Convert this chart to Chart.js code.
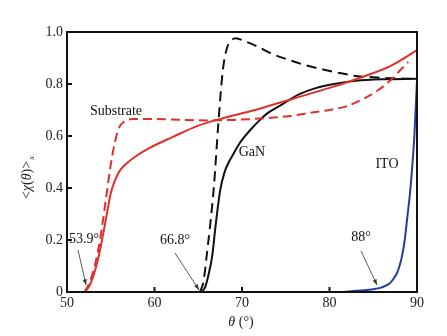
<!DOCTYPE html>
<html><head><meta charset="utf-8">
<script src="https://cdn.jsdelivr.net/npm/chart.js@4/dist/chart.umd.min.js"></script>
<style>html,body{margin:0;padding:0;background:#fff;}canvas{display:block;}</style>
</head><body>
<canvas id="c" width="447" height="336"></canvas>
<script>
// Substrate (red)
const subSolidX = [52,52.5,53,53.5,54,54.5,55,55.5,56,57,58,59.5,62,65,68,72,76,80,84,87,90];
const subSolidY = [0,0.02,0.06,0.12,0.2,0.29,0.38,0.43,0.465,0.5,0.525,0.555,0.595,0.64,0.67,0.705,0.745,0.785,0.83,0.87,0.93];
const subDashX = [52,52.5,53,53.5,54,54.5,55,55.5,56,56.5,57.5,60,63,66,69,72,75,78,80,82,84,85.5,87,88,89];
const subDashY = [0,0.03,0.08,0.15,0.25,0.37,0.49,0.58,0.635,0.655,0.665,0.665,0.662,0.66,0.662,0.667,0.675,0.69,0.70,0.715,0.745,0.775,0.815,0.85,0.885];
// GaN (black)
const ganSolidX = [65.4,65.8,66.2,66.6,67,67.5,68,68.5,69,69.5,70,71,72,73,74.5,76.5,78.5,80.5,83,86,90];
const ganSolidY = [0,0.02,0.07,0.14,0.26,0.39,0.46,0.5,0.53,0.56,0.585,0.625,0.66,0.69,0.72,0.76,0.785,0.80,0.812,0.818,0.82];
const ganDashX = [65.2,65.6,66,66.4,66.8,67.3,67.8,68.3,68.8,69.25,70.5,71.7,73.5,75.6,77.5,79.4,81.5,83.2,85,87,90];
const ganDashY = [0,0.04,0.15,0.27,0.41,0.65,0.85,0.94,0.968,0.976,0.962,0.945,0.915,0.89,0.87,0.855,0.84,0.83,0.826,0.822,0.82];
// ITO (blue)
const itoX = [81.5,82.5,84,85,85.8,86.4,86.9,87.3,87.7,88,88.3,88.6,88.9,89.2,89.45,89.7,90];
const itoY = [0,0.003,0.007,0.011,0.016,0.024,0.034,0.05,0.072,0.1,0.14,0.2,0.29,0.38,0.48,0.6,0.815];
// axis ticks
const xTicks = [50,60,70,80,90];
const yTicks = [0,0.2,0.4,0.6,0.8,1.0];
// annotations: [text, x, y] and arrows [x0,y0,x1,y1] in data units
const labels = [["Substrate",55.6,0.696],["GaN",71.14,0.538],["ITO",86.57,0.492],["53.9°",51.94,0.204],["66.8°",62.34,0.2],["88°",83.6,0.21]];
const arrows = [[51.26,0.1615,52.17,0.027],[62.34,0.15,65.09,0.008],[83.6,0.158,85.43,0.027]];

const pts = (xs,ys)=>xs.map((x,i)=>({x:x,y:ys[i]}));
const RED='#e0302c', BLUE='#2a3a9a', BLK='#111';
const FONT='"Liberation Serif","Times New Roman",serif';

const deco = {
  id:'deco',
  afterDraw(chart){
    const ctx=chart.ctx, xs=chart.scales.x, ys=chart.scales.y, a=chart.chartArea;
    ctx.save();
    ctx.strokeStyle='#111'; ctx.lineWidth=2;
    ctx.strokeRect(a.left,a.top,a.right-a.left,a.bottom-a.top);
    ctx.lineWidth=2;
    xTicks.forEach(v=>{const p=xs.getPixelForValue(v); ctx.beginPath(); ctx.moveTo(p,a.bottom); ctx.lineTo(p,a.bottom-5); ctx.stroke();});
    yTicks.forEach(v=>{const p=ys.getPixelForValue(v); ctx.beginPath(); ctx.moveTo(a.left,p); ctx.lineTo(a.left+5,p); ctx.stroke();});
    // annotations
    ctx.fillStyle='#111'; ctx.font='14px '+FONT; ctx.textAlign='center'; ctx.textBaseline='middle';
    labels.forEach(l=>ctx.fillText(l[0], xs.getPixelForValue(l[1]), ys.getPixelForValue(l[2])));
    ctx.strokeStyle='#333'; ctx.fillStyle='#333'; ctx.lineWidth=0.8;
    arrows.forEach(r=>{
      const x0=xs.getPixelForValue(r[0]), y0=ys.getPixelForValue(r[1]), x1=xs.getPixelForValue(r[2]), y1=ys.getPixelForValue(r[3]);
      ctx.beginPath(); ctx.moveTo(x0,y0); ctx.lineTo(x1,y1); ctx.stroke();
      const ang=Math.atan2(y1-y0,x1-x0), L=6, w=0.35;
      ctx.beginPath(); ctx.moveTo(x1,y1);
      ctx.lineTo(x1-L*Math.cos(ang-w), y1-L*Math.sin(ang-w));
      ctx.lineTo(x1-L*Math.cos(ang+w), y1-L*Math.sin(ang+w));
      ctx.closePath(); ctx.fill();
    });
    // y axis title
    ctx.fillStyle='#222';
    ctx.save(); ctx.translate(27,178); ctx.rotate(-Math.PI/2);
    const parts=[["<",'14px '],["χ",'italic 14px '],["(",'14px '],["θ",'italic 14px '],[")",'14px '],[">",'14px ']];
    let tw=0; parts.forEach(p=>{ctx.font=p[1]+FONT; tw+=ctx.measureText(p[0]).width;});
    ctx.font='italic 9px '+FONT; const sw=ctx.measureText('x').width; tw+=sw;
    let cx=-tw/2; ctx.textAlign='left'; ctx.textBaseline='middle';
    parts.forEach(p=>{ctx.font=p[1]+FONT; ctx.fillText(p[0],cx,0); cx+=ctx.measureText(p[0]).width;});
    ctx.font='italic 9px '+FONT; ctx.fillText('x',cx+1,5);
    ctx.restore();
    // x axis title
    ctx.textBaseline='middle'; ctx.textAlign='left';
    ctx.font='italic 14px '+FONT; const t1=ctx.measureText('θ').width;
    ctx.font='14px '+FONT; const t2=ctx.measureText(' (°)').width;
    let sx=241-(t1+t2)/2;
    ctx.font='italic 14px '+FONT; ctx.fillText('θ',sx,322);
    ctx.font='14px '+FONT; ctx.fillText(' (°)',sx+t1,322);
    ctx.restore();
  }
};

const common={pointRadius:0,borderWidth:2,fill:false,cubicInterpolationMode:'monotone'};
new Chart(document.getElementById('c'),{
  type:'line',
  data:{datasets:[
    Object.assign({label:'Substrate',data:pts(subSolidX,subSolidY),borderColor:RED},common),
    Object.assign({label:'Substrate dashed',data:pts(subDashX,subDashY),borderColor:RED,borderDash:[9,5]},common),
    Object.assign({label:'GaN',data:pts(ganSolidX,ganSolidY),borderColor:BLK},common),
    Object.assign({label:'GaN dashed',data:pts(ganDashX,ganDashY),borderColor:BLK,borderDash:[10,6]},common),
    Object.assign({label:'ITO',data:pts(itoX,itoY),borderColor:BLUE,borderWidth:2.5},common)
  ]},
  options:{
    responsive:false, devicePixelRatio:1, animation:false,
    layout:{padding:{top:32,right:30,left:0,bottom:0}},
    plugins:{legend:{display:false},tooltip:{enabled:false}},
    scales:{
      x:{type:'linear',min:50,max:90,
        afterBuildTicks:s=>{s.ticks=xTicks.map(v=>({value:v}));},
        afterFit:s=>{s.height=44;},
        grid:{display:false,drawTicks:false},border:{display:false},
        ticks:{color:'#222',font:{family:FONT,size:14},padding:3,maxRotation:0}},
      y:{type:'linear',min:0,max:1,
        afterBuildTicks:s=>{s.ticks=yTicks.map(v=>({value:v}));},
        afterFit:s=>{s.width=67;},
        grid:{display:false,drawTicks:false},border:{display:false},
        ticks:{color:'#222',font:{family:FONT,size:14},padding:4,callback:v=>v===0?'0':v.toFixed(1)}}
    }
  },
  plugins:[deco]
});
</script>
</body></html>
